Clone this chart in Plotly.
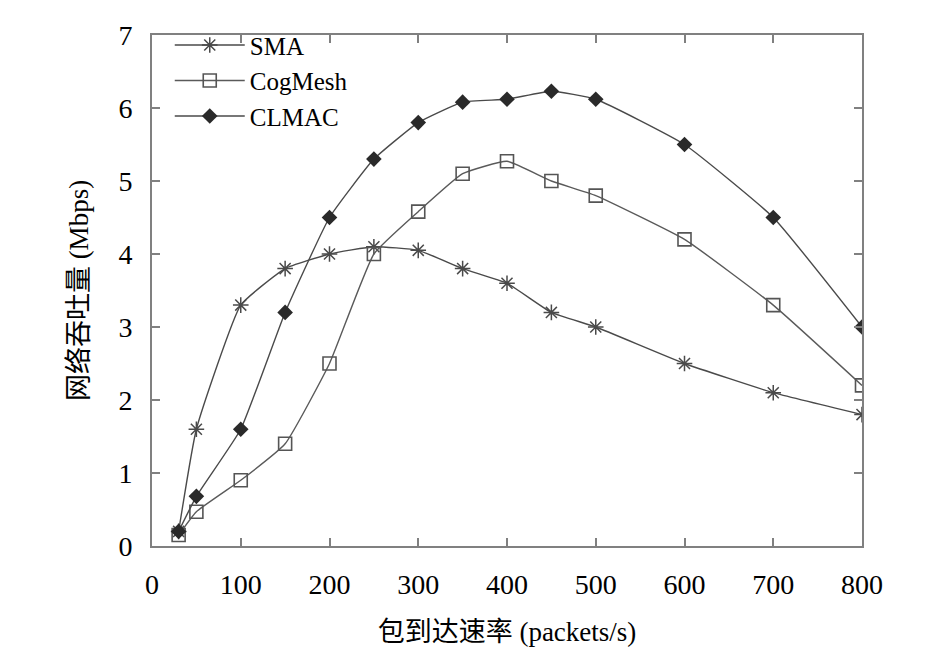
import plotly.graph_objects as go

# arrival rate (packets/s)
rate = [30, 50, 100, 150, 200, 250, 300, 350, 400, 450, 500, 600, 700, 800]

# throughput (Mbps)
sma = [0.2, 1.6, 3.3, 3.8, 4.0, 4.1, 4.05, 3.8, 3.6, 3.2, 3.0, 2.5, 2.1, 1.8]
cogmesh = [0.15, 0.47, 0.9, 1.4, 2.5, 4.0, 4.58, 5.1, 5.27, 5.0, 4.8, 4.2, 3.3, 2.2]
clmac = [0.2, 0.68, 1.6, 3.2, 4.5, 5.3, 5.8, 6.08, 6.12, 6.23, 6.12, 5.5, 4.5, 3.0]

font_stack = "Liberation Serif, Times New Roman, Noto Sans CJK SC, serif"

fig = go.Figure()

fig.add_trace(go.Scatter(
    x=rate, y=sma, name="SMA", mode="lines+markers",
    line=dict(color="#4a4a4a", width=1.4, shape="spline", smoothing=0.4),
    marker=dict(symbol="asterisk-open", size=13, line=dict(color="#333333", width=1.5))
))
fig.add_trace(go.Scatter(
    x=rate, y=cogmesh, name="CogMesh", mode="lines+markers",
    line=dict(color="#5a5a5a", width=1.4, shape="spline", smoothing=0.4),
    marker=dict(symbol="square-open", size=13, color="#555555", line=dict(color="#555555", width=1.6))
))
fig.add_trace(go.Scatter(
    x=rate, y=clmac, name="CLMAC", mode="lines+markers",
    line=dict(color="#4a4a4a", width=1.4, shape="spline", smoothing=0.4),
    marker=dict(symbol="diamond", size=12, color="#2a2a2a")
))

axis_common = dict(
    showgrid=False, zeroline=False, showline=True, mirror="ticks",
    linecolor="#808080", linewidth=2, ticks="inside", ticklen=8,
    tickwidth=2, tickcolor="#808080", ticklabelstandoff=12,
    ticklabeloverflow="allow",
    tickfont=dict(family=font_stack, size=28, color="black"),
)

fig.update_layout(
    width=945, height=656,
    margin=dict(l=144, r=91, t=12, b=118),
    plot_bgcolor="white", paper_bgcolor="white",
    font=dict(family=font_stack, color="black"),
    xaxis=dict(axis_common, range=[0, 800], dtick=100,
               title=dict(text="包到达速率 (packets/s)", font=dict(size=27), standoff=24)),
    yaxis=dict(axis_common, range=[0, 7], dtick=1,
               title=dict(text="网络吞吐量 (Mbps)", font=dict(size=27), standoff=22)),
    legend=dict(x=0.025, y=1.025, xanchor="left", yanchor="top",
                bgcolor="rgba(0,0,0,0)", itemwidth=70,
                font=dict(family="Liberation Serif", size=25, color="black"),
                tracegroupgap=0),
    showlegend=True,
)

fig.write_html("out.html")
